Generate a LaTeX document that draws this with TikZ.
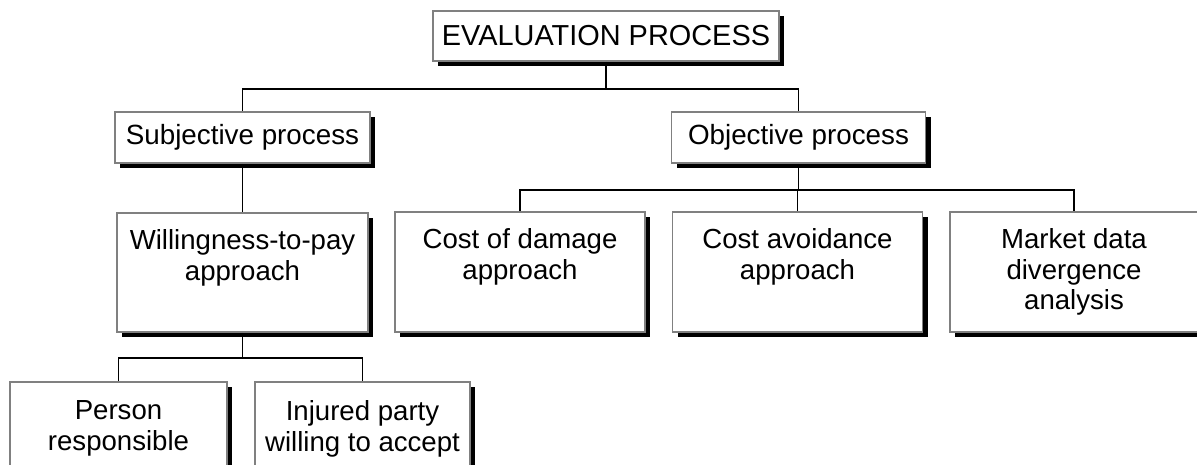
\documentclass[tikz,border=0pt]{standalone}
\usepackage{fontspec}
\setmainfont{Liberation Sans}
\usetikzlibrary{shadows}
\definecolor{boxgray}{gray}{0.5}
\tikzset{
  box/.style={draw=boxgray, line width=1.6pt, fill=white, inner sep=0pt,
    drop shadow={shadow xshift=5pt, shadow yshift=-5pt, fill=black, opacity=1}},
  boxtext/.style={anchor=north, align=center, inner sep=0pt,
    font=\fontsize{27.6}{30.5}\selectfont},
  conn/.style={draw=black, line width=1.7pt},
}
\begin{document}
\begin{tikzpicture}[x=1pt, y=-1pt]
\useasboundingbox (0,0) rectangle (1197,465);
\clip (0,0) rectangle (1197,465);
% boxes
\node[box, minimum width=346pt, minimum height=50pt, font=\fontsize{28.9}{31}\selectfont] (top) at (606,36) {EVALUATION PROCESS};
\node[box, minimum width=255pt, minimum height=51pt, font=\fontsize{27.8}{30.5}\selectfont] (subj) at (242.5,137.5) {Subjective process};
\node[box, minimum width=254pt, minimum height=51pt, font=\fontsize{27.8}{30.5}\selectfont] (obj) at (798.5,137.5) {Objective process};
\node[box, minimum width=251pt, minimum height=119pt] (will) at (242.5,272.5) {};
\node[box, minimum width=250pt, minimum height=120pt] (cod) at (520,272) {};
\node[box, minimum width=250pt, minimum height=120pt] (cav) at (797.5,272) {};
\node[box, minimum width=248pt, minimum height=120pt] (mkt) at (1074,272) {};
\node[box, minimum width=217pt, minimum height=120pt] (pers) at (118.5,442) {};
\node[box, minimum width=215pt, minimum height=120pt] (inj) at (362.5,442) {};
% texts
\node[boxtext] (willt) at ([yshift=-17.5pt]will.north) {Willingness-to-pay\\approach};
\node[boxtext] (codt) at ([yshift=-17.5pt]cod.north) {Cost of damage\\approach};
\node[boxtext] (cavt) at ([yshift=-17.5pt]cav.north) {Cost avoidance\\approach};
\node[boxtext] (mktt) at ([yshift=-17.5pt]mkt.north) {Market data\\divergence\\analysis};
\node[boxtext, font=\fontsize{27.6}{31.5}\selectfont] (perst) at ([yshift=-19pt]pers.north) {Person\\responsible};
\node[boxtext, font=\fontsize{27.6}{31.5}\selectfont] (injt) at ([yshift=-19pt]inj.north) {Injured party\\willing to accept};
% bus levels
\coordinate (b1) at (0,89);
\coordinate (b2) at (0,190);
\coordinate (b3) at (0,358);
% connectors
\draw[conn] (top.south) -- (top.south |- b1) -| (subj.north);
\draw[conn] (top.south |- b1) -| (obj.north);
\draw[conn] (subj.south) -- (will.north);
\draw[conn] (obj.south) -- (obj.south |- b2) -| (cod.north);
\draw[conn] (obj.south |- b2) -| (cav.north);
\draw[conn] (obj.south |- b2) -| (mkt.north);
\draw[conn] (will.south) -- (will.south |- b3) -| (pers.north);
\draw[conn] (will.south |- b3) -| (inj.north);
\end{tikzpicture}
\end{document}
